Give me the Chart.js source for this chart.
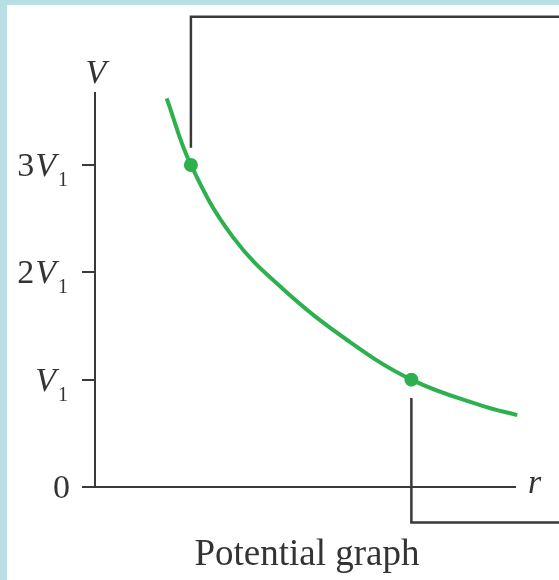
<!DOCTYPE html>
<html>
<head>
<meta charset="utf-8">
<script src="https://cdn.jsdelivr.net/npm/chart.js@4"></script>
<style>
  html, body { margin: 0; padding: 0; background: #fff; }
  canvas { display: block; }
</style>
</head>
<body>
<canvas id="potentialChart" width="559" height="580" style="width:559px;height:580px"></canvas>
<script>
// r in units of r1, V in units of V1
var curveR = [0.78, 1.00, 1.38, 1.84, 2.43, 3.00, 3.63, 3.96];
var curveV = [3.62, 3.00, 2.33, 1.84, 1.36, 1.00, 0.76, 0.67];

var markR = [1, 3];
var markV = [3, 1];

// leader lines running off to the rest of the figure
var leaderTopR = [1, 1, 4.5];
var leaderTopV = [3.16, 4.38, 4.38];
var leaderBotR = [3, 3, 4.5];
var leaderBotV = [0.83, -0.33, -0.33];

var yTickValues = [0, 1, 2, 3];
var yTickLabels = ['0', 'V1', '2V1', '3V1'];

var axisTitleY = 'V';
var axisTitleX = 'r';
var chartTitle = 'Potential graph';

function toPoints(xs, ys) {
  return xs.map(function (x, i) { return { x: x, y: ys[i] }; });
}

document.addEventListener('DOMContentLoaded', function () {
  var green = '#2db04e';
  var ink = '#3a3a3a';
  var serif = '"Liberation Serif", "DejaVu Serif", serif';

  var framePlugin = {
    id: 'frame',
    beforeDraw: function (chart) {
      var ctx = chart.ctx;
      ctx.save();
      ctx.fillStyle = '#b8dfe3';
      ctx.fillRect(0, 0, chart.width, chart.height);
      ctx.fillStyle = '#ffffff';
      ctx.fillRect(7, 5, chart.width - 7, chart.height - 5);
      ctx.restore();
    }
  };

  var textPlugin = {
    id: 'texts',
    afterDraw: function (chart) {
      var ctx = chart.ctx;
      var area = chart.chartArea;
      var ys = chart.scales.y;
      ctx.save();
      ctx.fillStyle = '#333';
      ctx.textBaseline = 'alphabetic';

      // y tick labels like 3V1 with italic V and subscript 1
      yTickValues.forEach(function (v, i) {
        var label = yTickLabels[i];
        var py = ys.getPixelForValue(v);
        var right = ys.left - 14;
        ctx.textAlign = 'right';
        if (label.slice(-2) === 'V1') {
          ctx.font = '20px ' + serif;
          ctx.fillText('1', right, py + 21);
          right -= ctx.measureText('1').width + 2;
          ctx.font = 'italic 34px ' + serif;
          ctx.fillText('V', right, py + 11);
          right -= ctx.measureText('V').width + 1;
          var coef = label.slice(0, -2);
          if (coef) {
            ctx.font = '34px ' + serif;
            ctx.fillText(coef, right, py + 11);
          }
        } else {
          ctx.font = '34px ' + serif;
          ctx.fillText(label, right + 2, py + 11);
        }
      });

      ctx.font = 'italic 34px ' + serif;
      ctx.textAlign = 'center';
      ctx.fillText(axisTitleY, area.left + 1, area.top - 10);
      ctx.textAlign = 'left';
      ctx.fillText(axisTitleX, area.right + 13, area.bottom + 6);

      ctx.font = '37px ' + serif;
      ctx.textAlign = 'center';
      ctx.fillText(chartTitle, (area.left + area.right) / 2 + 2, area.bottom + 78);
      ctx.restore();
    }
  };

  new Chart(document.getElementById('potentialChart'), {
    type: 'scatter',
    data: {
      datasets: [
        {
          label: 'leader top',
          data: toPoints(leaderTopR, leaderTopV),
          showLine: true,
          borderColor: ink,
          borderWidth: 2.5,
          pointRadius: 0,
          tension: 0,
          clip: false
        },
        {
          label: 'leader bottom',
          data: toPoints(leaderBotR, leaderBotV),
          showLine: true,
          borderColor: ink,
          borderWidth: 2.5,
          pointRadius: 0,
          tension: 0,
          clip: false
        },
        {
          label: 'V(r)',
          data: toPoints(curveR, curveV),
          showLine: true,
          borderColor: green,
          borderWidth: 4,
          pointRadius: 0,
          tension: 0.4,
          clip: false
        },
        {
          label: 'marked',
          data: toPoints(markR, markV),
          showLine: false,
          pointRadius: 7,
          pointBackgroundColor: green,
          pointBorderWidth: 0,
          clip: false
        }
      ]
    },
    options: {
      responsive: false,
      animation: false,
      layout: { padding: { left: 82, right: 44, top: 93, bottom: 93 } },
      plugins: {
        legend: { display: false },
        tooltip: { enabled: false },
        title: { display: false }
      },
      scales: {
        x: {
          type: 'linear',
          min: 0.13,
          max: 3.94,
          ticks: { display: false },
          grid: { display: false },
          border: { display: true, color: ink, width: 2 },
          afterFit: function (scale) { scale.height = 0; }
        },
        y: {
          type: 'linear',
          min: 0,
          max: 3.67,
          ticks: { display: false },
          grid: {
            drawOnChartArea: false,
            drawTicks: true,
            tickLength: 13,
            color: ink,
            lineWidth: 2
          },
          border: { display: true, color: ink, width: 2 },
          afterBuildTicks: function (scale) {
            scale.ticks = yTickValues.map(function (v) { return { value: v }; });
          },
          afterFit: function (scale) { scale.width = 13; }
        }
      }
    },
    plugins: [framePlugin, textPlugin]
  });
});
</script>
</body>
</html>
